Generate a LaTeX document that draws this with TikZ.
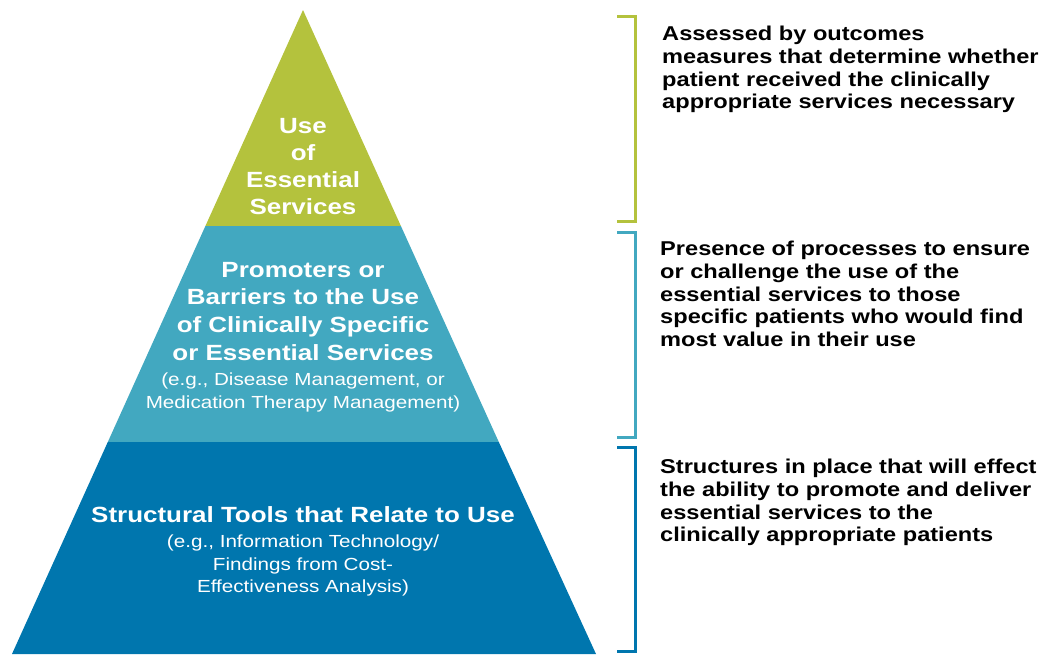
\documentclass[tikz,border=0pt]{standalone}
\usepackage{fontspec}
\setmainfont[FakeStretch=1.18]{Liberation Sans}
\definecolor{cgreen}{RGB}{180,194,61}
\definecolor{cteal}{RGB}{66,168,192}
\definecolor{cblue}{RGB}{0,118,174}
\newcommand{\mysubtxt}{\fontsize{17.5}{22.5}\selectfont\mdseries}
\begin{document}
\begin{tikzpicture}[x=1pt,y=-1pt,
  layertext/.style={text=white,align=center,font=\fontsize{22}{27.7}\selectfont\bfseries,inner sep=0pt},
  desc/.style={anchor=north west,align=left,inner sep=0pt,font=\fontsize{20}{22.7}\selectfont\bfseries},
  brk/.style={line width=3pt}]
\useasboundingbox (0,0) rectangle (1048,654);
% layers
\fill[cgreen] (303,10) -- (400.9,226) -- (205.4,226) -- cycle;
\fill[cteal] (205.4,226) -- (400.9,226) -- (498.8,442) -- (107.8,442) -- cycle;
\fill[cblue] (107.8,442) -- (498.8,442) -- (596,654) -- (12,654) -- cycle;
% layer texts
\node[layertext,font=\fontsize{22}{27}\selectfont\bfseries] (top) at (303,167) {Use\\of\\Essential\\Services};
\node[layertext] (mid) at (303,337) {Promoters or\\Barriers to the Use\\of Clinically Specific\\or Essential Services\\[-2.7pt]
  {\mysubtxt (e.g., Disease Management, or}\\[-4.7pt]{\mysubtxt Medication Therapy Management)}};
\node[layertext] (bot) at (303,551.5) {Structural Tools that Relate to Use\\[-2.7pt]
  {\mysubtxt (e.g., Information Technology/}\\[-5.2pt]{\mysubtxt Findings from Cost-}\\[-5.2pt]{\mysubtxt Effectiveness Analysis)}};
% brackets
\coordinate (g1) at (617,16); \coordinate (g2) at (617,221);
\coordinate (t1) at (617,232); \coordinate (t2) at (617,437);
\coordinate (b1) at (617,447); \coordinate (b2) at (617,651);
\draw[brk,cgreen] (g1) -- ++(18,0) |- (g2);
\draw[brk,cteal] (t1) -- ++(18,0) |- (t2);
\draw[brk,cblue] (b1) -- ++(18,0) |- (b2);
% descriptions
\node[desc] (d1) at (662,26) {Assessed by outcomes\\measures that determine whether\\patient received the clinically\\appropriate services necessary};
\node[desc] (d2) at (660,241) {Presence of processes to ensure\\or challenge the use of the\\essential services to those\\specific patients who would find\\most value in their use};
\node[desc] (d3) at (660,459) {Structures in place that will effect\\the ability to promote and deliver\\essential services to the\\clinically appropriate patients};
\end{tikzpicture}
\end{document}
